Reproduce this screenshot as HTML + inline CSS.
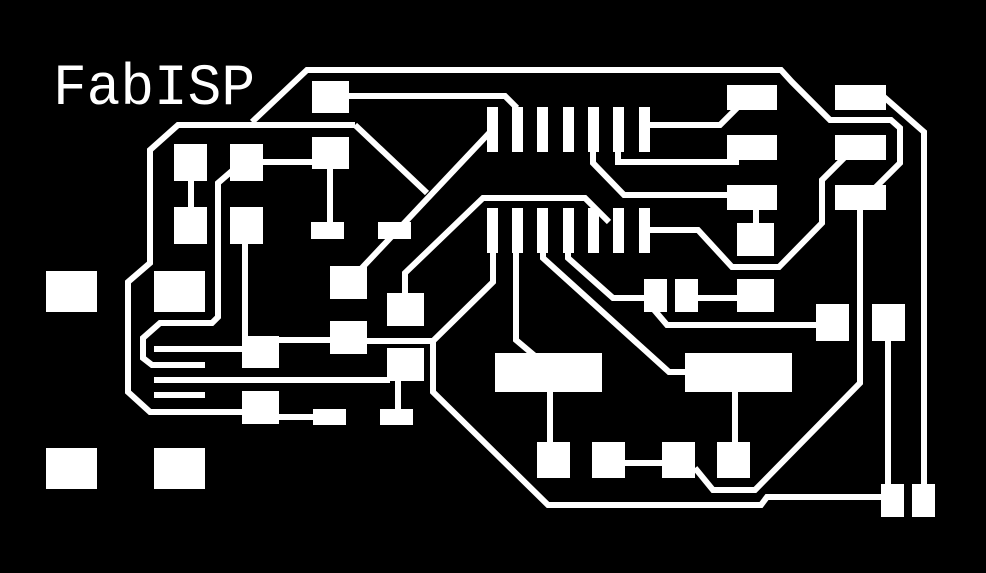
<!DOCTYPE html>
<html><head><meta charset="utf-8"><style>
html,body{margin:0;padding:0;background:#000;}
svg{display:block;}
</style></head><body>
<svg width="986" height="573" viewBox="0 0 986 573" xmlns="http://www.w3.org/2000/svg">
<rect width="986" height="573" fill="#000"/>
<text x="53" y="104" font-family="Liberation Mono, monospace" font-size="58" fill="#fff" textLength="202" lengthAdjust="spacingAndGlyphs">FabISP</text>
<g fill="none" stroke="#fff" stroke-width="6" stroke-linejoin="miter">
<!-- top outer -->
<polyline points="252,122 307,70 781,70 792,82 830,120 891,120 900,128 900,163 873,190"/>
<!-- pad to pin2 -->
<polyline points="340,96 505,96 517,108"/>
<!-- left loop -->
<polyline points="355,125 178,125 150,150 150,263 128,282 128,392 150,412 245,412"/>
<polyline points="355,125 427,193"/>
<polyline points="492,130 360,270"/>
<line x1="263" y1="162" x2="312" y2="162"/>
<line x1="330" y1="165" x2="330" y2="225"/>
<line x1="191" y1="178" x2="191" y2="210"/>
<polyline points="240,164 218,183 218,317 212,323 160,323 143,338 143,358 152,365 205,365"/>
<line x1="245" y1="240" x2="245" y2="345"/>
<line x1="270" y1="340" x2="335" y2="340"/>
<line x1="154" y1="349" x2="245" y2="349"/>
<line x1="154" y1="380" x2="390" y2="380"/>
<line x1="154" y1="395" x2="205" y2="395"/>
<polyline points="360,341 433,341 493,282 493,250"/>
<polyline points="433,338 433,392 548,505 761,505 767,497 885,497"/>
<polyline points="405,296 405,273 483,198 585,198 609,222"/>
<line x1="398" y1="375" x2="398" y2="412"/>
<line x1="275" y1="417" x2="315" y2="417"/>
<!-- right side -->
<polyline points="645,125 720,125 740,105"/>
<polyline points="618,150 618,162 736,162 736,155"/>
<polyline points="593,150 593,163 624,195 730,195"/>
<line x1="756" y1="205" x2="756" y2="226"/>
<polyline points="645,230 698,230 732,267 779,267 822,223 822,180 846,156"/>
<polyline points="860,205 860,383 755,490 713,490 695,468"/>
<polyline points="884,97 924,132 924,490"/>
<line x1="888" y1="335" x2="888" y2="490"/>
<polyline points="516,250 516,340 535,356"/>
<polyline points="543,250 543,258 669,372 690,372"/>
<polyline points="568,250 568,258 613,298 650,298"/>
<line x1="695" y1="298" x2="740" y2="298"/>
<polyline points="650,305 667,325 820,325"/>
<line x1="550" y1="388" x2="550" y2="445"/>
<line x1="735" y1="388" x2="735" y2="445"/>
<line x1="622" y1="463" x2="665" y2="463"/>
</g>
<g fill="#fff">
<rect x="312" y="81" width="37" height="32"/>
<rect x="174" y="144" width="33" height="37"/>
<rect x="230" y="144" width="33" height="37"/>
<rect x="312" y="137" width="37" height="32"/>
<rect x="174" y="207" width="33" height="37"/>
<rect x="230" y="207" width="33" height="37"/>
<rect x="311" y="222" width="33" height="17"/>
<rect x="378" y="222" width="33" height="17"/>
<rect x="330" y="266" width="37" height="33"/>
<rect x="387" y="293" width="37" height="33"/>
<rect x="46" y="271" width="51" height="41"/>
<rect x="154" y="271" width="51" height="41"/>
<rect x="46" y="448" width="51" height="41"/>
<rect x="154" y="448" width="51" height="41"/>
<rect x="242" y="336" width="37" height="32"/>
<rect x="330" y="321" width="37" height="33"/>
<rect x="387" y="348" width="37" height="33"/>
<rect x="242" y="391" width="37" height="33"/>
<rect x="313" y="409" width="33" height="16"/>
<rect x="380" y="409" width="33" height="16"/>
<!-- IC pins -->
<rect x="487" y="107" width="11" height="45"/>
<rect x="512" y="107" width="11" height="45"/>
<rect x="537" y="107" width="11" height="45"/>
<rect x="563" y="107" width="11" height="45"/>
<rect x="588" y="107" width="11" height="45"/>
<rect x="613" y="107" width="11" height="45"/>
<rect x="639" y="107" width="11" height="45"/>
<rect x="487" y="208" width="11" height="45"/>
<rect x="512" y="208" width="11" height="45"/>
<rect x="537" y="208" width="11" height="45"/>
<rect x="563" y="208" width="11" height="45"/>
<rect x="588" y="208" width="11" height="45"/>
<rect x="613" y="208" width="11" height="45"/>
<rect x="639" y="208" width="11" height="45"/>
<!-- right pads -->
<rect x="727" y="85" width="50" height="25"/>
<rect x="727" y="135" width="50" height="25"/>
<rect x="727" y="185" width="50" height="25"/>
<rect x="737" y="223" width="37" height="33"/>
<rect x="835" y="85" width="51" height="25"/>
<rect x="835" y="135" width="51" height="25"/>
<rect x="835" y="185" width="51" height="25"/>
<rect x="644" y="279" width="23" height="33"/>
<rect x="675" y="279" width="23" height="33"/>
<rect x="737" y="279" width="37" height="33"/>
<rect x="816" y="304" width="33" height="37"/>
<rect x="872" y="304" width="33" height="37"/>
<rect x="495" y="353" width="107" height="39"/>
<rect x="685" y="353" width="107" height="39"/>
<rect x="537" y="442" width="33" height="36"/>
<rect x="592" y="442" width="33" height="36"/>
<rect x="662" y="442" width="33" height="36"/>
<rect x="717" y="442" width="33" height="36"/>
<rect x="881" y="484" width="23" height="33"/>
<rect x="912" y="484" width="23" height="33"/>
</g>
</svg>
</body></html>
